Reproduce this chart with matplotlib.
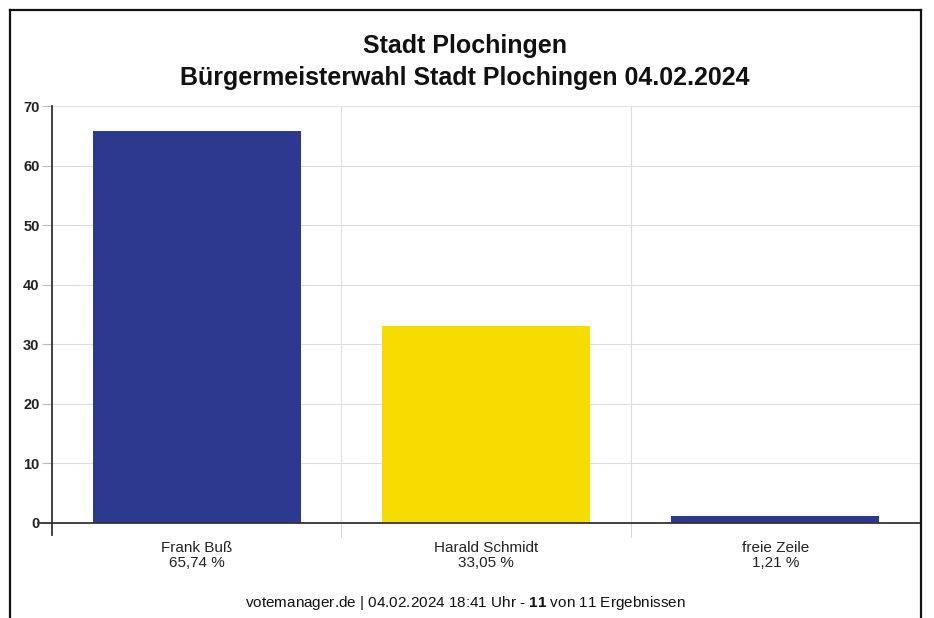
import matplotlib
matplotlib.use("Agg")
import matplotlib.pyplot as plt
from matplotlib.lines import Line2D

plt.rcParams["font.family"] = ["Liberation Sans", "DejaVu Sans"]
plt.rcParams["mathtext.fontset"] = "custom"
plt.rcParams["mathtext.rm"] = "Liberation Sans"
plt.rcParams["mathtext.bf"] = "Liberation Sans:bold"

# data
candidates = ["Frank Buß", "Harald Schmidt", "freie Zeile"]
shares = [65.74, 33.05, 1.21]
share_labels = ["65,74 %", "33,05 %", "1,21 %"]
bar_colors = ["#2B3A8F", "#F7DC00", "#2B3A8F"]
yticks = [0, 10, 20, 30, 40, 50, 60, 70]

fig = plt.figure(figsize=(9.34, 6.18), dpi=100)
ax = fig.add_axes([52 / 934, 1 - 523 / 618, 868 / 934, 417 / 618])

x = range(len(candidates))
ax.bar(x, shares, width=0.72, color=bar_colors, zorder=3)

ax.set_xlim(-0.5, len(candidates) - 0.5)
ax.set_ylim(0, 70)
ax.set_yticks(yticks)
ax.tick_params(axis="y", length=7, color="#bbbbbb", labelsize=10.5, pad=2,
               labelcolor="#222222")
for lab in ax.get_yticklabels():
    lab.set_fontweight("bold")

ax.set_xticks(list(x))
ax.set_xticklabels([f"{c}\n{s}" for c, s in zip(candidates, share_labels)],
                   fontsize=11, color="#222222", linespacing=1.05)
ax.tick_params(axis="x", length=0, pad=13)
ax.set_xticks([0.5, 1.5], minor=True)
ax.tick_params(axis="x", which="minor", length=10, color="#cccccc")

ax.grid(axis="y", color="#dddddd", linewidth=0.8, zorder=0)
ax.grid(axis="x", which="minor", color="#dddddd", linewidth=0.8, zorder=0)
ax.grid(axis="x", which="major", visible=False)

for side in ["top", "right"]:
    ax.spines[side].set_color("#e4e4e4")
for side in ["left", "bottom"]:
    ax.spines[side].set_color("#333333")
    ax.spines[side].set_linewidth(1.3)
    ax.spines[side].set_zorder(4)
ax.spines["left"].set_bounds(-2, 70)
ax.spines["bottom"].set_bounds(-0.55, 2.5)

fig.text(0.498, 1 - 46 / 618, "Stadt Plochingen", ha="center", va="center",
         fontsize=18, fontweight="bold", color="#111111")
fig.text(0.498, 1 - 78 / 618, "Bürgermeisterwahl Stadt Plochingen 04.02.2024",
         ha="center", va="center", fontsize=18, fontweight="bold", color="#111111")

fig.text(0.498, 1 - 603 / 618,
         r"votemanager.de | 04.02.2024 18:41 Uhr - $\mathbf{11}$ von 11 Ergebnissen",
         ha="center", va="center", fontsize=11, color="#111111")

# outer frame
frame_kw = dict(color="#111111", linewidth=1.6, transform=fig.transFigure)
fig.add_artist(Line2D([10 / 934, 921 / 934], [1 - 10 / 618, 1 - 10 / 618], **frame_kw))
fig.add_artist(Line2D([10 / 934, 10 / 934], [1 - 10 / 618, 0], **frame_kw))
fig.add_artist(Line2D([921 / 934, 921 / 934], [1 - 10 / 618, 0], **frame_kw))

fig.savefig("out.png", dpi=100)
